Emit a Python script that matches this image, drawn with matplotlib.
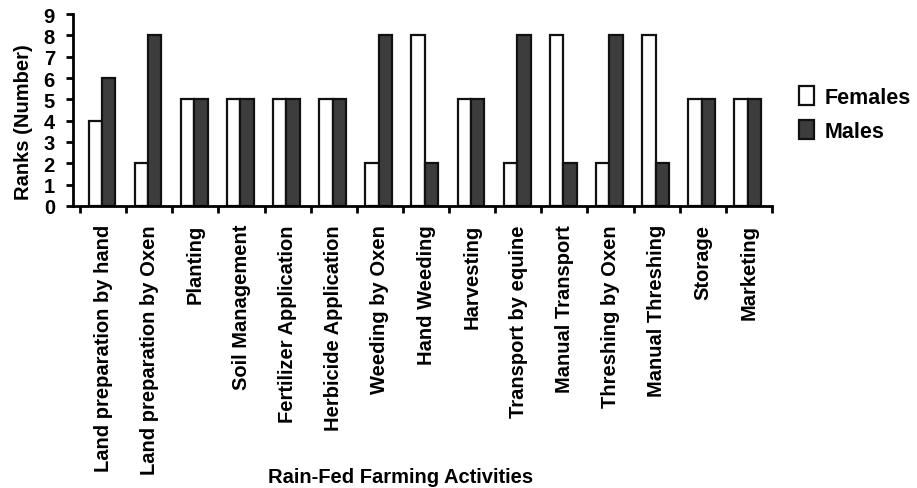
import numpy as np
import matplotlib
matplotlib.use('Agg')
import matplotlib.pyplot as plt

# ranks given to each rain-fed farming activity
activities = [
    'Land preparation by hand', 'Land preparation by Oxen', 'Planting',
    'Soil Management', 'Fertilizer Application', 'Herbicide Application',
    'Weeding by Oxen', 'Hand Weeding', 'Harvesting', 'Transport by equine',
    'Manual Transport', 'Threshing by Oxen', 'Manual Threshing', 'Storage',
    'Marketing',
]
females = [4, 2, 5, 5, 5, 5, 2, 8, 5, 2, 8, 2, 8, 5, 5]
males = [6, 8, 5, 5, 5, 5, 8, 2, 5, 8, 2, 8, 2, 5, 5]
yticks = list(range(0, 10))

plt.rcParams['font.family'] = ['Liberation Sans', 'DejaVu Sans']
plt.rcParams['font.weight'] = 'bold'
plt.rcParams['axes.labelweight'] = 'bold'

fig = plt.figure(figsize=(9.17, 4.89), dpi=100)
ax = fig.add_axes([0.0796, 0.5767, 0.7623, 0.3926])

x = np.arange(len(activities))
width = 0.29
ax.bar(x - 0.17, females, width, color='white', edgecolor='#111111',
       linewidth=1.6, label='Females')
ax.bar(x + 0.12, males, width, color='#3d3d3d', edgecolor='#111111',
       linewidth=1.6, label='Males')

ax.set_ylim(0, 9)
ax.set_xlim(-0.652, len(activities) - 0.5)
ax.set_yticks(yticks)
ax.tick_params(axis='y', labelsize=14.5, width=2, length=5, pad=8)

# category boundaries get the tick marks, centres get the labels
ax.set_xticks(np.arange(len(activities) + 1) - 0.5)
ax.set_xticklabels([])
ax.set_xticks(x, minor=True)
ax.set_xticklabels(activities, minor=True, rotation=90, fontsize=14.5,
                   va='top', ha='center')
ax.tick_params(axis='x', which='major', width=2, length=5)
ax.tick_params(axis='x', which='minor', length=0, pad=13)

for side in ['top', 'right']:
    ax.spines[side].set_visible(False)
for side in ['left', 'bottom']:
    ax.spines[side].set_linewidth(2)

ax.set_ylabel('Ranks (Number)', fontsize=14.5)
ax.yaxis.set_label_coords(-0.057, 0.44)
ax.set_xlabel('Rain-Fed Farming Activities', fontsize=14.5)
ax.xaxis.set_label_coords(0.468, -1.36)

ax.legend(loc='upper left', bbox_to_anchor=(0.862, 0.84),
          bbox_transform=fig.transFigure, frameon=False, fontsize=15.5,
          handlelength=0.7, handleheight=1.0, handletextpad=0.5,
          labelspacing=0.55, borderaxespad=0)

fig.savefig('out.png', dpi=100)
